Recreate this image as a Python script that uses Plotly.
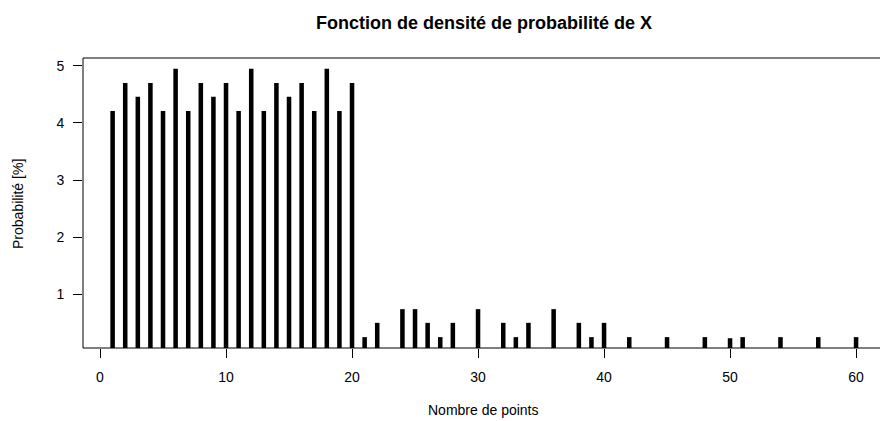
import plotly.graph_objects as go

scores = [1, 2, 3, 4, 5, 6, 7, 8, 9, 10, 11, 12, 13, 14, 15, 16, 17, 18, 19, 20,
          21, 22, 24, 25, 26, 27, 28, 30, 32, 33, 34, 36, 38, 39, 40,
          42, 45, 48, 50, 51, 54, 57, 60]
probs = [4.21, 4.70, 4.46, 4.70, 4.21, 4.95, 4.21, 4.70, 4.46, 4.70,
         4.21, 4.95, 4.21, 4.70, 4.46, 4.70, 4.21, 4.95, 4.21, 4.70,
         0.25, 0.50, 0.74, 0.74, 0.50, 0.25, 0.50, 0.74, 0.50, 0.25, 0.50, 0.74, 0.50, 0.25, 0.50,
         0.25, 0.25, 0.25, 0.23, 0.25, 0.25, 0.25, 0.25]
x_ticks = [0, 10, 20, 30, 40, 50, 60]
y_ticks = [1, 2, 3, 4, 5]

title_text = "Fonction de densité de probabilité de X"
x_title = "Nombre de points"
y_title = "Probabilité [%]"

FONT = "Liberation Sans, Arial, Helvetica, sans-serif"

fig = go.Figure()
fig.add_trace(go.Bar(
    x=scores, y=probs, width=0.36,
    marker=dict(color="black", line=dict(width=0)),
    hoverinfo="x+y",
))

W, H = 880, 421
L, R, T, B = 83, 0, 58, 73

fig.update_layout(
    width=W, height=H,
    margin=dict(l=L, r=R, t=T, b=B, pad=0),
    paper_bgcolor="white", plot_bgcolor="white",
    showlegend=False,
    font=dict(family=FONT, size=14, color="black"),
    xaxis=dict(
        range=[-1.35, 61.9], tickvals=x_ticks, ticktext=[str(v) for v in x_ticks],
        ticks="outside", ticklen=9, tickwidth=1, tickcolor="black",
        showgrid=False, zeroline=False, showline=False,
        ticklabelstandoff=7,
        tickfont=dict(family=FONT, size=14, color="black"),
    ),
    yaxis=dict(
        range=[0.0594, 5.138], tickvals=y_ticks, ticktext=[str(v) for v in y_ticks],
        ticks="outside", ticklen=9, tickwidth=1, tickcolor="black",
        showgrid=False, zeroline=False, showline=False,
        ticklabelstandoff=6,
        tickfont=dict(family=FONT, size=14, color="black"),
    ),
    shapes=[dict(type="rect", xref="paper", yref="paper", x0=0, x1=1.05, y0=0, y1=1,
                 line=dict(color="black", width=1), fillcolor="rgba(0,0,0,0)", layer="above")],
    annotations=[
        dict(text="<b>" + title_text + "</b>", xref="paper", yref="paper",
             x=(483.5 - L) / (W - L - R), y=1 + (T - 23) / (H - T - B),
             showarrow=False, xanchor="center", yanchor="middle",
             font=dict(family=FONT, size=18, color="black")),
        dict(text=x_title, xref="paper", yref="paper",
             x=(483.5 - L) / (W - L - R), y=-(410 - (H - B)) / (H - T - B),
             showarrow=False, xanchor="center", yanchor="middle",
             font=dict(family=FONT, size=14, color="black")),
        dict(text=y_title, xref="paper", yref="paper",
             x=-(L - 18) / (W - L - R), y=(H - B - 204) / (H - T - B), textangle=-90,
             showarrow=False, xanchor="center", yanchor="middle",
             font=dict(family=FONT, size=14, color="black")),
    ],
)

fig.write_html("out.html", config={"displayModeBar": False},
               post_script="document.body.style.margin='0';document.body.style.overflow='hidden';")
